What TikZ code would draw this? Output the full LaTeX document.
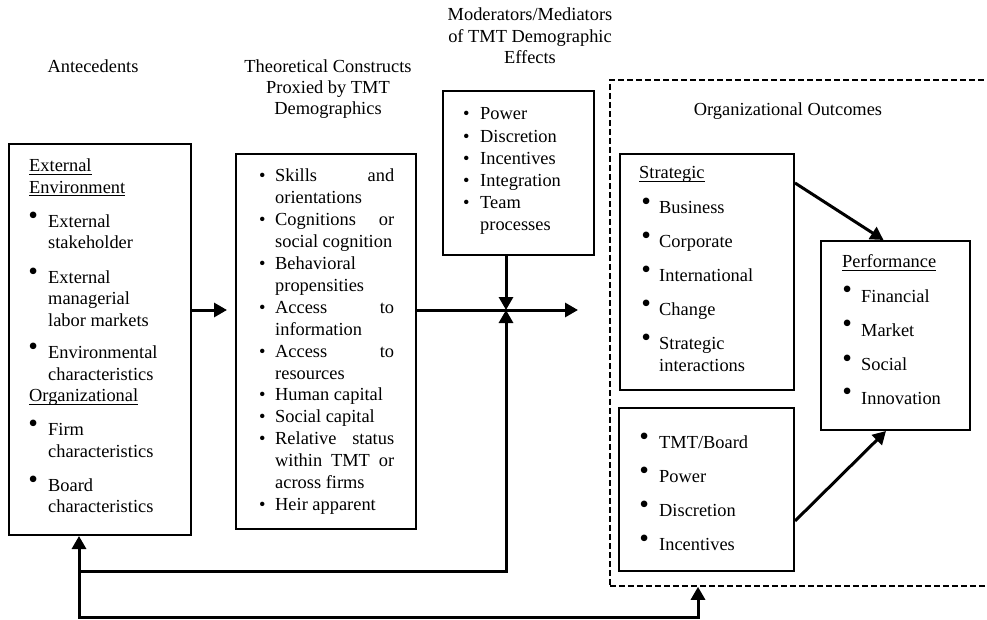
\documentclass[tikz,border=0pt]{standalone}
\usepackage{graphicx}
\usepackage{fontspec}
\setmainfont{Liberation Serif}
\usetikzlibrary{arrows.meta}
\newcommand\ulx[1]{\leavevmode\setbox0\hbox{#1}\rlap{\rule[-2.8pt]{\wd0}{0.9pt}}\box0}
\newcommand\rbul[2]{\leavevmode\rlap{\hspace*{#1}\makebox[0pt]{\raisebox{3pt}{\scalebox{1.5}{\textbullet}}}}\hspace*{#2}}
\newcommand\nbul[1]{\leavevmode\makebox[#1][l]{\textbullet}}
\newcommand\jst[1]{\makebox[119pt][s]{#1}}
\begin{document}
\begin{tikzpicture}[x=1pt,y=-1pt,
  font=\fontsize{18.4pt}{21.9pt}\selectfont,
  box/.style={draw, line width=2pt, inner sep=0pt, anchor=north west},
  dbox/.style={draw, line width=1.8pt, dash pattern=on 6pt off 3pt, inner sep=0pt, anchor=north west},
  txt/.style={inner sep=0pt, anchor=base west},
  ttl/.style={inner sep=0pt, anchor=base},
  arr/.style={line width=3pt, -{Triangle[length=13pt,width=14pt]}}]
\useasboundingbox (0,0) rectangle (987,620);

% titles
\node[ttl] (t1) at (93,73) {Antecedents};
\node[ttl] (t2) at (328,73) {\parbox[t]{220pt}{\centering\fontsize{18.4pt}{21pt}\selectfont Theoretical Constructs\\Proxied by TMT\\Demographics}};
\node[ttl] (t3) at (530,21) {\parbox[t]{220pt}{\centering\fontsize{18.4pt}{21.3pt}\selectfont Moderators/Mediators\\of TMT Demographic\\Effects}};
\node[ttl] (t4) at (788,116) {Organizational Outcomes};

% boxes
\node[box, minimum width=182pt, minimum height=391pt] (ante) at (8,143) {};
\node[box, minimum width=180pt, minimum height=375pt] (theo) at (235,153) {};
\node[box, minimum width=151pt, minimum height=164pt] (mod) at (442,90) {};
\node[dbox, minimum width=420pt, minimum height=506pt] (out) at (609,79) {};
\node[box, minimum width=174pt, minimum height=236pt] (strat) at (619,153) {};
\node[box, minimum width=175pt, minimum height=163pt] (tmt) at (618,407) {};
\node[box, minimum width=149pt, minimum height=189pt] (perf) at (820,240) {};

% box contents
\node[txt] (antetext) at (29,172) {\parbox[t]{170pt}{\fontsize{18.4pt}{21.5pt}\selectfont\raggedright
\ulx{External}\\
\ulx{Environment}\\[12.5pt]
\rbul{4pt}{19pt}External\\
\hspace*{19pt}stakeholder\\[13pt]
\rbul{4pt}{19pt}External\\
\hspace*{19pt}managerial\\
\hspace*{19pt}labor markets\\[10.8pt]
\rbul{4pt}{19pt}Environmental\\
\hspace*{19pt}characteristics\\
\ulx{Organizational}\\[12.5pt]
\rbul{4pt}{19pt}Firm\\
\hspace*{19pt}characteristics\\[12.5pt]
\rbul{4pt}{19pt}Board\\
\hspace*{19pt}characteristics}};

\node[txt] (theotext) at (258.8,182) {\parbox[t]{170pt}{\fontsize{18.4pt}{21.9pt}\selectfont\raggedright
\nbul{16.2pt}\jst{Skills\hfill and}\\
\hspace*{16.2pt}orientations\\
\nbul{16.2pt}\jst{Cognitions\hfill or}\\
\hspace*{16.2pt}social cognition\\
\nbul{16.2pt}Behavioral\\
\hspace*{16.2pt}propensities\\
\nbul{16.2pt}\jst{Access\hfill to}\\
\hspace*{16.2pt}information\\
\nbul{16.2pt}\jst{Access\hfill to}\\
\hspace*{16.2pt}resources\\
\nbul{16.2pt}Human capital\\
\nbul{16.2pt}Social capital\\
\nbul{16.2pt}\jst{Relative\hfill status}\\
\hspace*{16.2pt}\jst{within\hfill TMT\hfill or}\\
\hspace*{16.2pt}across firms\\
\nbul{16.2pt}Heir apparent}};

\node[txt] (modtext) at (462.8,120) {\parbox[t]{140pt}{\fontsize{18.4pt}{22.2pt}\selectfont\raggedright
\nbul{17.2pt}Power\\
\nbul{17.2pt}Discretion\\
\nbul{17.2pt}Incentives\\
\nbul{17.2pt}Integration\\
\nbul{17.2pt}Team\\
\hspace*{17.2pt}processes}};

\node[txt] (strattext) at (639,179) {\parbox[t]{160pt}{\fontsize{18.4pt}{21.9pt}\selectfont\raggedright
\ulx{Strategic}\\[13pt]
\rbul{7pt}{20pt}Business\\[12.1pt]
\rbul{7pt}{20pt}Corporate\\[12.1pt]
\rbul{7pt}{20pt}International\\[12.1pt]
\rbul{7pt}{20pt}Change\\[12.1pt]
\rbul{7pt}{20pt}Strategic\\
\hspace*{20pt}interactions}};

\node[txt] (tmttext) at (644,448) {\parbox[t]{160pt}{\fontsize{18.4pt}{21.9pt}\selectfont\raggedright
\rbul{0pt}{15pt}TMT/Board\\[12.4pt]
\rbul{0pt}{15pt}Power\\[12.4pt]
\rbul{0pt}{15pt}Discretion\\[12.4pt]
\rbul{0pt}{15pt}Incentives}};

\node[txt] (perftext) at (842,268) {\parbox[t]{140pt}{\fontsize{18.4pt}{21.9pt}\selectfont\raggedright
\ulx{Performance}\\[12.1pt]
\rbul{5pt}{19pt}Financial\\[12.1pt]
\rbul{5pt}{19pt}Market\\[12.1pt]
\rbul{5pt}{19pt}Social\\[12.1pt]
\rbul{5pt}{19pt}Innovation}};

% connectors
\coordinate (cross) at (506,310);
\coordinate (hend) at (578,310);
\coordinate (b1) at (79,617);
\coordinate (b2) at (698,617);
\coordinate (m1) at (79,571);

\draw[arr, shorten >=8pt] (ante.east |- cross) -- (theo.west |- cross);
\draw[arr] (theo.east |- cross) -- (hend);
\draw[arr] (mod.south -| cross) -- (cross);
\draw[arr] (m1) -- (cross |- m1) -- (cross);
\draw[arr] (b2) -- (b1) -- (b1 |- ante.south);
\draw[arr] (b1) -- (b2) -- (b2 |- out.south);
\draw[arr] ([yshift=-30pt]strat.north east) -- ([xshift=-12pt]perf.north);
\draw[arr] ([yshift=-31.5pt]tmt.east) -- ([xshift=-9.5pt]perf.south);
\end{tikzpicture}
\end{document}
